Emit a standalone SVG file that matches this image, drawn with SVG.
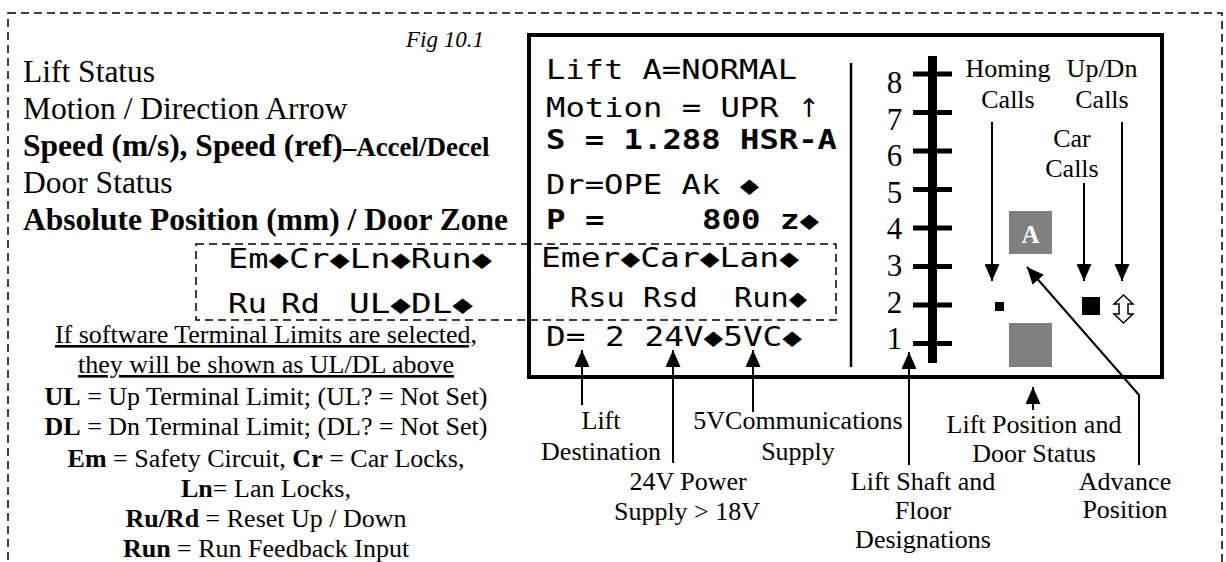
<svg xmlns="http://www.w3.org/2000/svg" width="1226" height="562" viewBox="0 0 1226 562">
<defs>
<style>
.serif{font-family:"Liberation Serif","Times New Roman",serif;fill:#000}
.lbl{font-size:31.5px}
.note{font-size:26px;text-anchor:middle}
.mono{font-family:"DejaVu Sans Mono",monospace;font-size:26px;fill:#000;white-space:pre}
.b{font-weight:bold}
.u{text-decoration:underline}
.dash{fill:none;stroke:#000;stroke-width:1.5;stroke-dasharray:8 5}
.conn{fill:none;stroke:#000;stroke-width:2}
.tick{stroke:#000;stroke-width:5}
.num{font-size:31px;text-anchor:middle}
</style>
<marker id="ah" markerUnits="userSpaceOnUse" markerWidth="17" markerHeight="15" refX="17" refY="7.5" orient="auto"><path d="M0,0 L17,7.5 L0,15 z" fill="#000"/></marker>
</defs>
<rect width="1226" height="562" fill="#fff"/>
<g id="frame">
<rect class="dash" x="8" y="13" width="1214" height="600"/>
</g>
<g id="fig-title"><text class="serif" font-style="italic" font-size="23" x="484" y="47" text-anchor="end">Fig 10.1</text></g>
<g id="left-labels">
<text class="serif lbl" x="23" y="82">Lift Status</text>
<text class="serif lbl" x="23" y="119">Motion / Direction Arrow</text>
<text class="serif lbl b" x="23" y="156">Speed (m/s), Speed (ref)<tspan font-size="27">–Accel/Decel</tspan></text>
<text class="serif lbl" x="23" y="193">Door Status</text>
<text class="serif lbl b" x="23" y="230">Absolute Position (mm) / Door Zone</text>
</g>
<g id="display">
<rect x="529" y="35" width="633" height="342" fill="none" stroke="#000" stroke-width="4"/>
<line x1="851" y1="63" x2="851" y2="367" stroke="#000" stroke-width="2.5"/>
</g>
<g id="readout">
<text class="mono" xml:space="preserve" x="546" y="79" textLength="251" lengthAdjust="spacingAndGlyphs">Lift A=NORMAL</text>
<text class="mono" xml:space="preserve" x="546" y="117" textLength="252" lengthAdjust="spacingAndGlyphs">Motion = UPR </text>
<text class="serif" font-family="DejaVu Sans" style="font-family:'DejaVu Sans',sans-serif" font-size="26" x="798" y="117">↑</text>
<text class="mono b" xml:space="preserve" x="546" y="149" textLength="291" lengthAdjust="spacingAndGlyphs">S = 1.288 HSR-A</text>
<text class="mono" xml:space="preserve" x="546" y="194" textLength="213" lengthAdjust="spacingAndGlyphs">Dr=OPE Ak ◆</text>
<text class="mono b" xml:space="preserve" x="546" y="229" textLength="273" lengthAdjust="spacingAndGlyphs">P =     800 z◆</text>
<text class="mono" xml:space="preserve" x="541" y="267" textLength="258" lengthAdjust="spacingAndGlyphs">Emer◆Car◆Lan◆</text>
<text class="mono" xml:space="preserve" x="570" y="307" textLength="237" lengthAdjust="spacingAndGlyphs">Rsu Rsd  Run◆</text>
<text class="mono" xml:space="preserve" x="546" y="346" textLength="256" lengthAdjust="spacingAndGlyphs">D= 2 24V◆5VC◆</text>
</g>
<g id="inputs-box">
<rect class="dash" x="196" y="244" width="640" height="76"/>
<text class="mono" xml:space="preserve" x="228" y="268" textLength="264" lengthAdjust="spacingAndGlyphs">Em◆Cr◆Ln◆Run◆</text>
<text class="mono" x="228" y="313" textLength="39" lengthAdjust="spacingAndGlyphs">Ru</text>
<text class="mono" x="281" y="313" textLength="39" lengthAdjust="spacingAndGlyphs">Rd</text>
<text class="mono" x="349" y="313" textLength="124" lengthAdjust="spacingAndGlyphs">UL◆DL◆</text>
</g>
<g id="legend">
<text class="serif note u" x="266" y="343">If software Terminal Limits are selected,</text>
<text class="serif note u" x="266" y="373">they will be shown as UL/DL above</text>
<text class="serif note" x="266" y="405"><tspan class="b">UL</tspan> = Up Terminal Limit; (UL? = Not Set)</text>
<text class="serif note" x="266" y="435"><tspan class="b">DL</tspan> = Dn Terminal Limit; (DL? = Not Set)</text>
<text class="serif note" x="266" y="467"><tspan class="b">Em</tspan> = Safety Circuit, <tspan class="b">Cr</tspan> = Car Locks,</text>
<text class="serif note" x="266" y="497"><tspan class="b">Ln</tspan>= Lan Locks,</text>
<text class="serif note" x="266" y="527"><tspan class="b">Ru/Rd</tspan> = Reset Up / Down</text>
<text class="serif note" x="266" y="557"><tspan class="b">Run</tspan> = Run Feedback Input</text>
</g>
<g id="floor-scale">
<rect x="928" y="56" width="9" height="307" fill="#000"/>
<line class="tick" x1="913" y1="74" x2="952" y2="74"/>
<line class="tick" x1="913" y1="112.5" x2="952" y2="112.5"/>
<line class="tick" x1="913" y1="151" x2="952" y2="151"/>
<line class="tick" x1="913" y1="189.5" x2="952" y2="189.5"/>
<line class="tick" x1="913" y1="228" x2="952" y2="228"/>
<line class="tick" x1="913" y1="266.5" x2="952" y2="266.5"/>
<line class="tick" x1="913" y1="305" x2="952" y2="305"/>
<line class="tick" x1="913" y1="343.5" x2="952" y2="343.5"/>
<text class="serif num" x="894.5" y="93">8</text>
<text class="serif num" x="894.5" y="129.6">7</text>
<text class="serif num" x="894.5" y="166.2">6</text>
<text class="serif num" x="894.5" y="202.8">5</text>
<text class="serif num" x="894.5" y="239.4">4</text>
<text class="serif num" x="894.5" y="276">3</text>
<text class="serif num" x="894.5" y="312.6">2</text>
<text class="serif num" x="894.5" y="349.2">1</text>
</g>
<g id="calls-labels">
<text class="serif note" x="1008" y="77">Homing</text>
<text class="serif note" x="1008" y="108">Calls</text>
<text class="serif note" x="1102" y="77">Up/Dn</text>
<text class="serif note" x="1102" y="108">Calls</text>
<text class="serif note" x="1072" y="147">Car</text>
<text class="serif note" x="1072" y="177">Calls</text>
</g>
<g id="lift-position">
<rect x="1009" y="211" width="43" height="43" fill="#808080"/>
<text class="serif b" font-size="25" style="fill:#fff" x="1030.5" y="243" text-anchor="middle">A</text>
<rect x="1009" y="323" width="43" height="44" fill="#808080"/>
<rect x="995" y="302" width="9" height="9" fill="#000"/>
<rect x="1082" y="297" width="18" height="18" fill="#000"/>
<polygon points="1123.5,295 1133,304 1128,304 1128,314 1133,314 1123.5,323 1114,314 1119,314 1119,304 1114,304" fill="#fff" stroke="#000" stroke-width="1.5"/>
</g>
<g id="bottom-labels">
<text class="serif note" x="601" y="429">Lift</text>
<text class="serif note" x="601" y="460">Destination</text>
<text class="serif note" x="688" y="490">24V Power</text>
<text class="serif note" x="687" y="520">Supply &gt; 18V</text>
<text class="serif note" x="798" y="429">5VCommunications</text>
<text class="serif note" x="798" y="460">Supply</text>
<text class="serif note" x="923" y="490">Lift Shaft and</text>
<text class="serif note" x="923" y="519">Floor</text>
<text class="serif note" x="923" y="548">Designations</text>
<text class="serif note" x="1034" y="433">Lift Position and</text>
<text class="serif note" x="1034" y="462">Door Status</text>
<text class="serif note" x="1125" y="490">Advance</text>
<text class="serif note" x="1125" y="518">Position</text>
</g>
<g id="connectors">
<line class="conn" x1="582" y1="405" x2="582" y2="350" marker-end="url(#ah)"/>
<line class="conn" x1="673" y1="463" x2="673" y2="350" marker-end="url(#ah)"/>
<line class="conn" x1="753" y1="412" x2="753" y2="350" marker-end="url(#ah)"/>
<line class="conn" x1="909" y1="465" x2="909" y2="352" marker-end="url(#ah)"/>
<line class="conn" x1="1033" y1="410" x2="1033" y2="387" marker-end="url(#ah)"/>
<polyline class="conn" points="1139,465 1139,395 1027,267" marker-end="url(#ah)"/>
<line class="conn" x1="992" y1="122" x2="992" y2="281" marker-end="url(#ah)"/>
<line class="conn" x1="1084" y1="183" x2="1084" y2="281" marker-end="url(#ah)"/>
<line class="conn" x1="1122" y1="122" x2="1122" y2="281" marker-end="url(#ah)"/>
</g>
</svg>
